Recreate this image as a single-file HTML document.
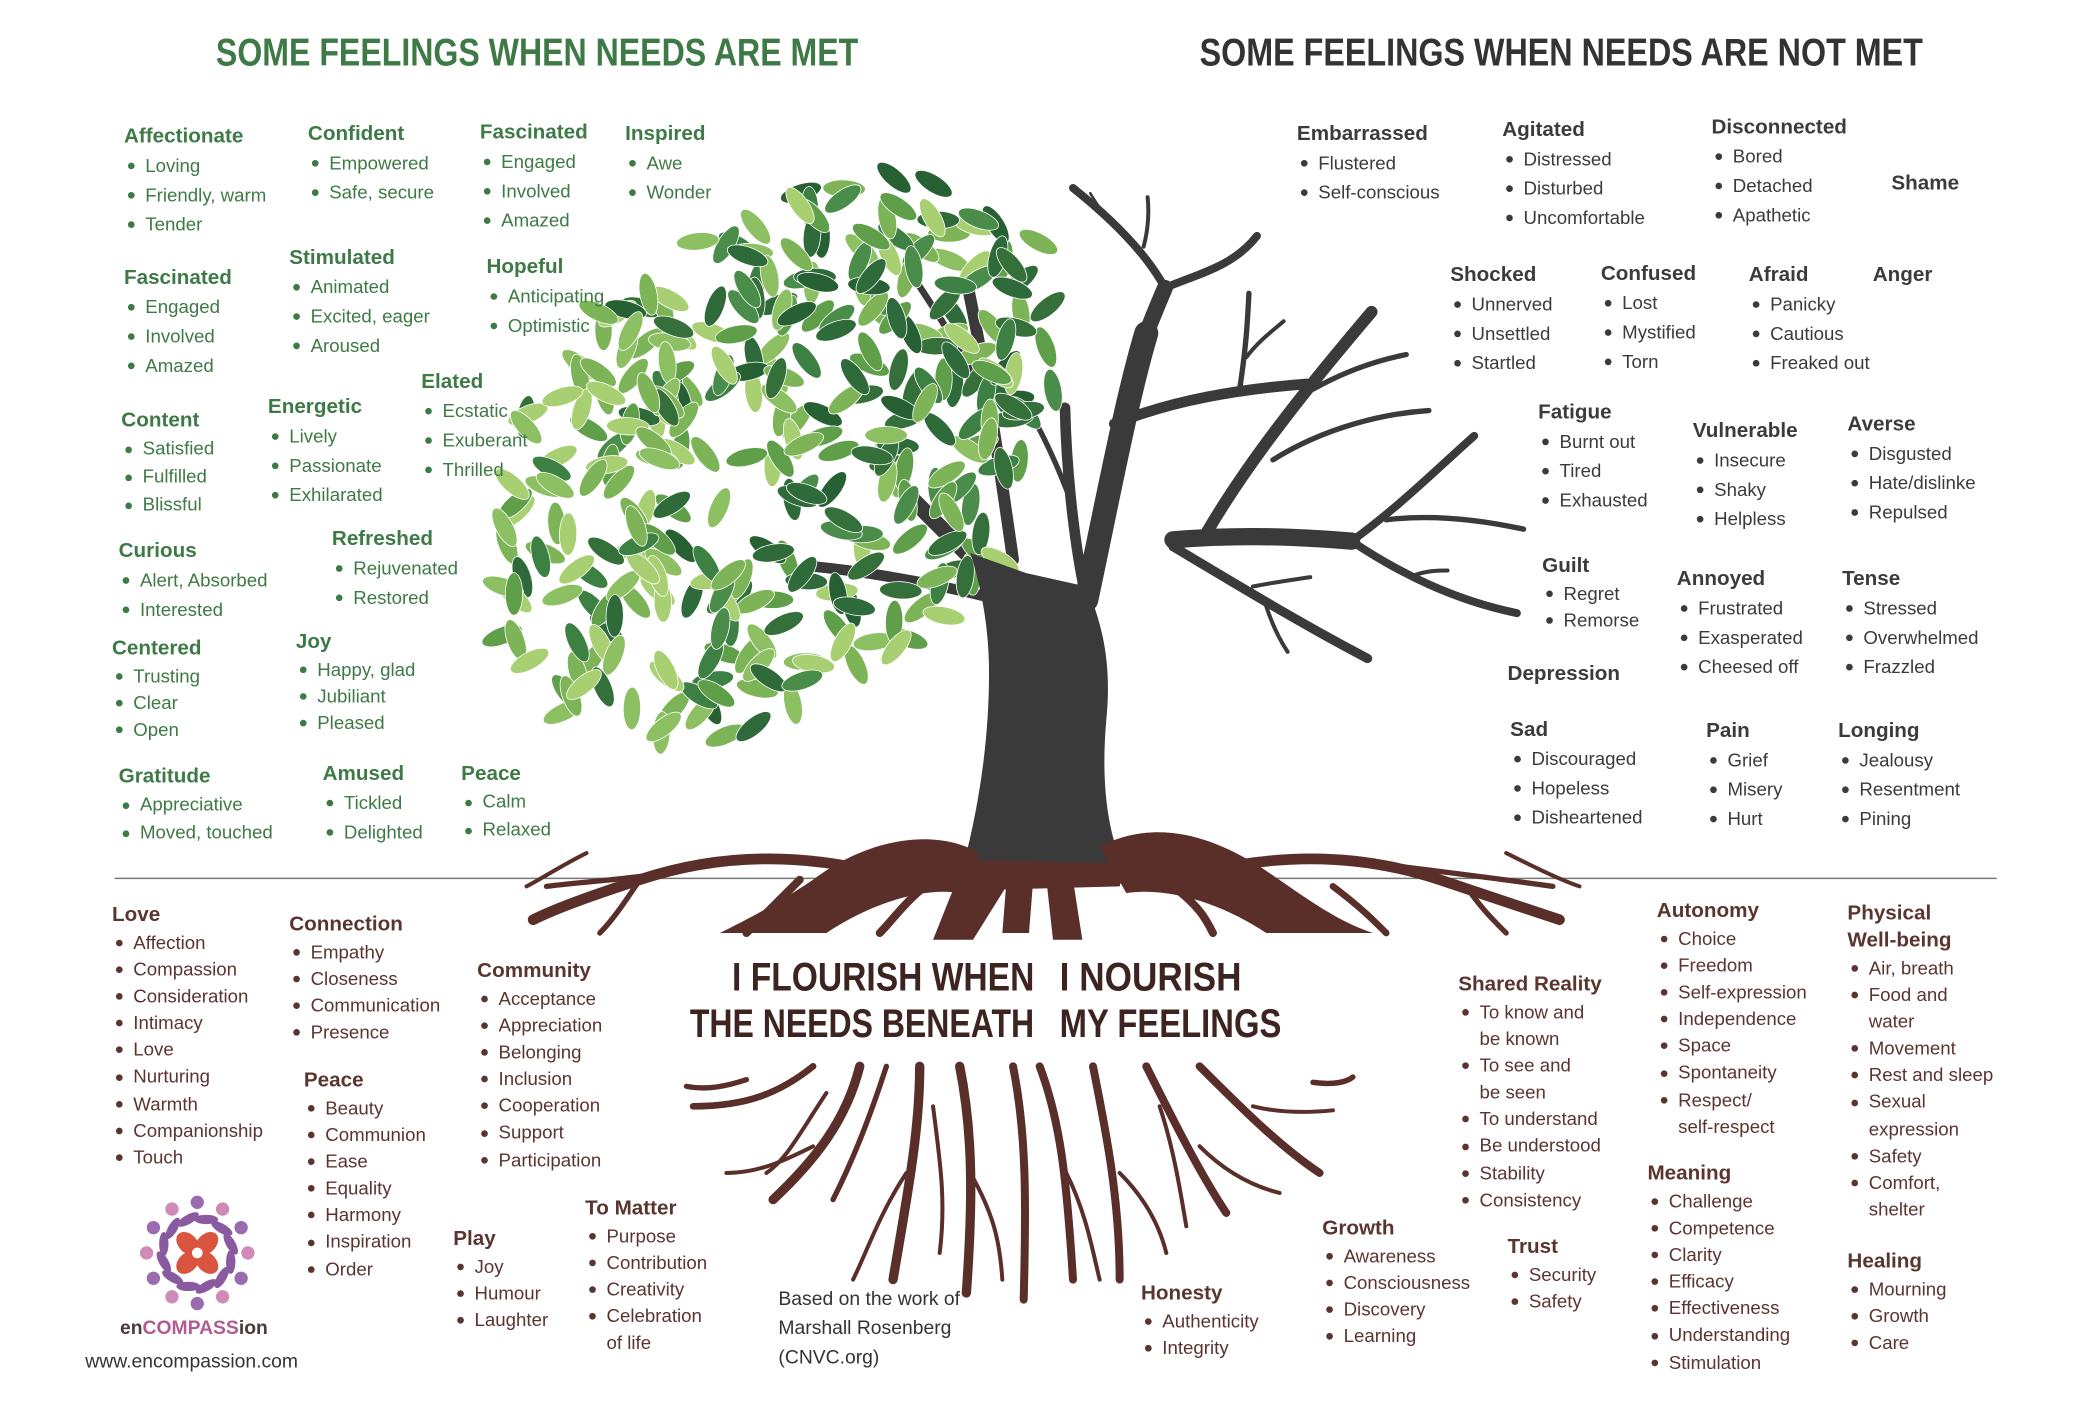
<!DOCTYPE html>
<html><head><meta charset="utf-8">
<style>
html,body{margin:0;padding:0;background:#fff;}
#wrap{position:absolute;left:0;top:0;width:1568px;height:1067px;transform:scale(1.33291);transform-origin:0 0;overflow:hidden;font-family:"Liberation Sans",sans-serif;}
.b{position:absolute;white-space:nowrap;}
.b h{display:block;font-weight:bold;font-size:15.5px;line-height:20px;}
.b i{display:block;font-style:normal;font-size:14px;line-height:var(--lh,22px);padding-left:16px;position:relative;}
.b i.d:before{content:"";position:absolute;left:3px;top:calc(var(--lh,22px)/2 - 2px);width:5px;height:5px;border-radius:50%;background:currentColor;}
.g{color:#3d7a45}.k{color:#3b3b3b}.r{color:#5a3530;--lh:20.1px}
.title{position:absolute;font-family:"Liberation Sans Narrow","Liberation Sans",sans-serif;font-weight:bold;font-size:29px;line-height:36px;white-space:nowrap;}
.ct{position:absolute;font-weight:bold;font-size:30px;line-height:35px;white-space:nowrap;color:#3d2420;}
svg{position:absolute;left:0;top:0;}
</style></head><body>
<div id="wrap">
<svg id="art" width="1568" height="1067" viewBox="0 0 1568 1067"></svg>

<div class="title" style="left:162px;top:22px;color:#3d7a45;transform:scaleX(0.83);transform-origin:0 50%">SOME FEELINGS WHEN NEEDS ARE MET</div>
<div class="title" style="left:900px;top:22px;color:#333;transform:scaleX(0.835);transform-origin:0 50%">SOME FEELINGS WHEN NEEDS ARE NOT MET</div>

<div class="ct" style="right:792px;top:716px;transform:scaleX(0.84);transform-origin:100% 50%">I FLOURISH WHEN</div>
<div class="ct" style="right:792px;top:751px;transform:scaleX(0.8);transform-origin:100% 50%">THE NEEDS BENEATH</div>
<div class="ct" style="left:795px;top:716px;transform:scaleX(0.88);transform-origin:0 50%">I NOURISH</div>
<div class="ct" style="left:795px;top:751px;transform:scaleX(0.82);transform-origin:0 50%">MY FEELINGS</div>

<div id="blocks"></div>

<div class="b" style="left:584px;top:964px;color:#333;font-size:14.5px;line-height:22px;">Based on the work of<br>Marshall Rosenberg<br>(CNVC.org)</div>
<div class="b" style="left:90px;top:989px;color:#4a3a3a;font-weight:bold;font-size:14.5px;">en<span style="color:#b15b94">COMPASS</span>ion</div>
<div class="b" style="left:64px;top:1014px;color:#333;font-size:14.5px;">www.encompassion.com</div>
</div>
<script>
var B=[
['g',93,93,'Affectionate',['Loving','Friendly, warm','Tender']],
['g',231,91,'Confident',['Empowered','Safe, secure']],
['g',360,90,'Fascinated',['Engaged','Involved','Amazed']],
['g',469,91,'Inspired',['Awe','Wonder']],
['g',217,184,'Stimulated',['Animated','Excited, eager','Aroused']],
['g',365,191,'Hopeful',['Anticipating','Optimistic']],
['g',93,199,'Fascinated',['Engaged','Involved','Amazed']],
['g',316,277,'Elated',['Ecstatic','Exuberant','Thrilled']],
['g',201,296,'Energetic',['Lively','Passionate','Exhilarated']],
['g',91,306,'Content',['Satisfied','Fulfilled','Blissful'],21],
['g',249,395,'Refreshed',['Rejuvenated','Restored']],
['g',89,404,'Curious',['Alert, Absorbed','Interested']],
['g',84,477,'Centered',['Trusting','Clear','Open'],20],
['g',222,472,'Joy',['Happy, glad','Jubiliant','Pleased'],20],
['g',89,573,'Gratitude',['Appreciative','Moved, touched'],21],
['g',242,571,'Amused',['Tickled','Delighted']],
['g',346,571,'Peace',['Calm','Relaxed'],21],
['k',973,91,'Embarrassed',['Flustered','Self-conscious']],
['k',1127,88,'Agitated',['Distressed','Disturbed','Uncomfortable']],
['k',1284,86,'Disconnected',['Bored','Detached','Apathetic']],
['k',1419,128,'Shame',[]],
['k',1088,197,'Shocked',['Unnerved','Unsettled','Startled']],
['k',1201,196,'Confused',['Lost','Mystified','Torn']],
['k',1312,197,'Afraid',['Panicky','Cautious','Freaked out']],
['k',1405,197,'Anger',[]],
['k',1154,300,'Fatigue',['Burnt out','Tired','Exhausted']],
['k',1270,314,'Vulnerable',['Insecure','Shaky','Helpless']],
['k',1386,309,'Averse',['Disgusted','Hate/dislinke','Repulsed']],
['k',1157,415,'Guilt',['Regret','Remorse'],20],
['k',1258,425,'Annoyed',['Frustrated','Exasperated','Cheesed off']],
['k',1382,425,'Tense',['Stressed','Overwhelmed','Frazzled']],
['k',1131,496,'Depression',[]],
['k',1133,538,'Sad',['Discouraged','Hopeless','Disheartened']],
['k',1280,539,'Pain',['Grief','Misery','Hurt']],
['k',1379,539,'Longing',['Jealousy','Resentment','Pining']],
['r',84,677,'Love',['Affection','Compassion','Consideration','Intimacy','Love','Nurturing','Warmth','Companionship','Touch']],
['r',217,684,'Connection',['Empathy','Closeness','Communication','Presence']],
['r',358,719,'Community',['Acceptance','Appreciation','Belonging','Inclusion','Cooperation','Support','Participation']],
['r',228,801,'Peace',['Beauty','Communion','Ease','Equality','Harmony','Inspiration','Order']],
['r',340,920,'Play',['Joy','Humour','Laughter']],
['r',439,897,'To Matter',['Purpose','Contribution','Creativity','Celebration','-of life']],
['r',1094,729,'Shared Reality',['To know and','-be known','To see and','-be seen','To understand','Be understood','Stability','Consistency']],
['r',1243,674,'Autonomy',['Choice','Freedom','Self-expression','Independence','Space','Spontaneity','Respect/','-self-respect']],
['r',1386,676,'Physical<br>Well-being',['Air, breath','Food and','-water','Movement','Rest and sleep','Sexual','-expression','Safety','Comfort,','-shelter']],
['r',1236,871,'Meaning',['Challenge','Competence','Clarity','Efficacy','Effectiveness','Understanding','Stimulation']],
['r',1386,937,'Healing',['Mourning','Growth','Care']],
['r',992,912,'Growth',['Awareness','Consciousness','Discovery','Learning']],
['r',1131,926,'Trust',['Security','Safety']],
['r',856,961,'Honesty',['Authenticity','Integrity']]
];
var h='';
B.forEach(function(b){
 var st='left:'+b[1]+'px;top:'+b[2]+'px;'+(b[5]?'--lh:'+b[5]+'px;':'');
 h+='<div class="b '+b[0]+'" style="'+st+'"><h>'+b[3]+'</h>';
 b[4].forEach(function(t){ if(t[0]=='-') h+='<i>'+t.slice(1)+'</i>'; else h+='<i class="d">'+t+'</i>';});
 h+='</div>';
});
document.getElementById('blocks').innerHTML=h;

var s='';
s+='<line x1="86" y1="659" x2="1498" y2="659" stroke="#777" stroke-width="1.2"/>';
var T='#3a3a3a';
function br(d,w){s+='<path d="'+d+'" fill="none" stroke="'+T+'" stroke-width="'+w+'" stroke-linecap="round" stroke-linejoin="round"/>';}
// main up branch (tapered)
br('M815 450 C830 380 845 300 860 250',18);
br('M860 250 C866 235 870 225 874 216',12);
br('M874 216 C860 190 835 165 805 141',6);
br('M874 216 C900 205 925 200 943 177',6);
br('M858 185 C862 170 862 158 861 148',3);
br('M835 170 C828 160 822 152 818 145',2);
// right middle branch
br('M836 318 C880 300 930 292 980 288',8);
br('M930 292 C935 260 936 240 937 220',4);
br('M935 268 C945 255 955 248 963 241',3);
// upper-right branch
br('M905 400 C940 340 990 280 1029 234',9);
br('M985 292 C1010 278 1035 270 1055 266',4);
br('M955 345 C995 320 1040 310 1072 308',4);
// long right branch
br('M880 405 C940 400 990 404 1014 406',13);
br('M1014 406 C1050 380 1080 350 1106 327',6);
br('M1040 390 C1080 385 1120 392 1143 397',4);
br('M1014 406 C1050 430 1090 450 1138 460',6);
br('M1060 432 C1070 428 1080 428 1086 428',3);
// lower branch
br('M880 410 C930 440 980 470 1026 494',7);
br('M940 440 C955 437 970 435 983 433',3);
br('M950 455 C955 470 960 480 966 489',3);
// left inner branches
br('M813 440 C805 400 800 350 799 306',8);
br('M805 380 C790 340 775 310 765 299',4);
br('M770 460 C730 420 690 380 660 350',12);
br('M750 450 C710 440 660 430 610 425',8);
br('M760 420 C750 350 740 280 725 210',9);
br('M740 300 C720 260 700 230 680 200',5);
// canopy
var seed=11;function R(){seed=(seed*16807)%2147483647;return (seed-1)/2147483646;}
var cols=['#2f6b3a','#3d8044','#276033','#5f9f4a','#8cc063','#a8cf72','#356f3a','#7db457','#4a8d4a'];
var ca=Math.cos(-0.7),sa=Math.sin(-0.7);
for(var i=0;i<360;i++){
 var a=R()*Math.PI*2, r=Math.sqrt(R());
 var u=Math.cos(a)*r*255, v=Math.sin(a)*r*175;
 var cx=585+u*ca-v*sa, cy=345+u*sa+v*ca;
 if(cx>790||cy>565||cy<120||cx<375) continue;
 var rot=R()*180, c=cols[Math.floor(R()*cols.length)];
 if(cx<520&&R()<0.5) c=['#8cc063','#a8cf72','#7db457'][Math.floor(R()*3)];
 s+='<ellipse cx="'+cx.toFixed(1)+'" cy="'+cy.toFixed(1)+'" rx="16" ry="6.5" fill="'+c+'" transform="rotate('+rot.toFixed(0)+' '+cx.toFixed(1)+' '+cy.toFixed(1)+')" stroke="#fff" stroke-width="0.6"/>';
}
// trunk
s+='<path d="M722 652 C736 600 742 550 742 505 C742 470 736 440 728 415 L770 430 L815 440 C828 470 834 500 830 540 C826 585 830 625 845 655 Z" fill="'+T+'"/>';
// upper roots
var Rc='#5a2f2a';
s+='<path d="M735 640 C700 620 650 630 610 660 C580 680 560 690 540 700 L620 700 C650 680 690 665 720 670 Z" fill="'+Rc+'"/>';
s+='<path d="M825 635 C865 615 905 625 945 650 C975 670 1000 690 1030 700 L950 700 C920 680 880 665 845 670 Z" fill="'+Rc+'"/>';
s+='<path d="M722 650 L700 705 L730 705 L755 665 Z M785 660 L790 705 L812 705 L805 660 Z M755 662 L752 700 L772 700 L775 662 Z" fill="'+Rc+'"/>';
s+='<path d="M722 645 L845 648 L840 665 L725 668 Z" fill="'+Rc+'"/>';
function rt(d,w){s+='<path d="'+d+'" fill="none" stroke="'+Rc+'" stroke-width="'+w+'" stroke-linecap="round"/>';}
rt('M660 655 C600 640 540 640 480 660 C450 670 420 680 400 690',8);
rt('M520 650 C480 660 450 660 410 665',4);
rt('M480 660 C470 675 460 690 450 700',4);
rt('M600 660 C580 680 570 690 560 700',6);
rt('M700 660 C680 675 670 690 660 700',6);
rt('M900 655 C960 640 1020 640 1080 660 C1110 670 1140 680 1170 690',8);
rt('M1050 650 C1090 655 1130 660 1165 665',4);
rt('M1000 665 C1020 680 1030 690 1040 700',5);
rt('M880 665 C900 680 905 690 910 700',6);
rt('M1100 665 C1110 680 1120 690 1130 700',4);
rt('M440 640 C420 650 405 660 395 665',3);
rt('M1130 640 C1150 650 1170 660 1185 665',3);
// lower roots
var L=[
['M645 800 C635 840 612 870 580 900',7],['M610 860 C590 870 570 880 545 880',3],['M610 800 C585 820 560 830 520 830',5],
['M690 800 C690 850 680 900 670 960',7],['M680 880 C660 910 650 940 640 960',3],['M665 800 C652 840 640 870 625 900',4],
['M720 800 C730 850 730 900 725 970',7],['M728 880 C745 910 750 930 752 960',3],
['M760 800 C770 850 770 900 768 975',6],['M780 800 C795 840 800 880 805 960',6],['M800 880 C815 910 820 940 825 960',3],
['M820 800 C830 850 840 900 840 960',6],['M840 880 C860 900 870 920 875 940',3],
['M860 800 C880 840 900 880 920 910',6],['M900 860 C920 880 940 890 960 895',3],
['M900 800 C930 830 960 860 990 880',6],['M940 830 C960 835 980 835 1000 833',3],['M870 830 C880 860 885 890 890 920',3],
['M620 820 C600 850 590 870 575 880',3],['M700 830 C705 870 710 900 705 940',3],
['M560 810 C545 815 530 818 515 815',4],['M985 812 C1000 814 1010 812 1015 808',4]
];
L.forEach(function(x){rt(x[0],x[1]);});
// logo
var lc=[148,940];
for(var k=0;k<12;k++){var an=k*Math.PI/6;var x=lc[0]+Math.cos(an)*38,y=lc[1]+Math.sin(an)*38;
 s+='<circle cx="'+x.toFixed(1)+'" cy="'+y.toFixed(1)+'" r="5" fill="'+(k%2?'#9b6bb0':'#d08ab8')+'"/>';
 var x2=lc[0]+Math.cos(an+0.26)*26,y2=lc[1]+Math.sin(an+0.26)*26;
 s+='<ellipse cx="'+x2.toFixed(1)+'" cy="'+y2.toFixed(1)+'" rx="9" ry="3.5" fill="#8a5aa0" transform="rotate('+(k*30+90)+' '+x2.toFixed(1)+' '+y2.toFixed(1)+')"/>';}
for(var k=0;k<4;k++){var an=k*Math.PI/2+Math.PI/4;var x=lc[0]+Math.cos(an)*10,y=lc[1]+Math.sin(an)*10;
 s+='<ellipse cx="'+x.toFixed(1)+'" cy="'+y.toFixed(1)+'" rx="10" ry="7" fill="#d9553f" transform="rotate('+(k*90+45)+' '+x.toFixed(1)+' '+y.toFixed(1)+')"/>';}
s+='<circle cx="148" cy="940" r="4" fill="#fff"/>';
document.getElementById('art').innerHTML=s;
</script>
</body></html>
